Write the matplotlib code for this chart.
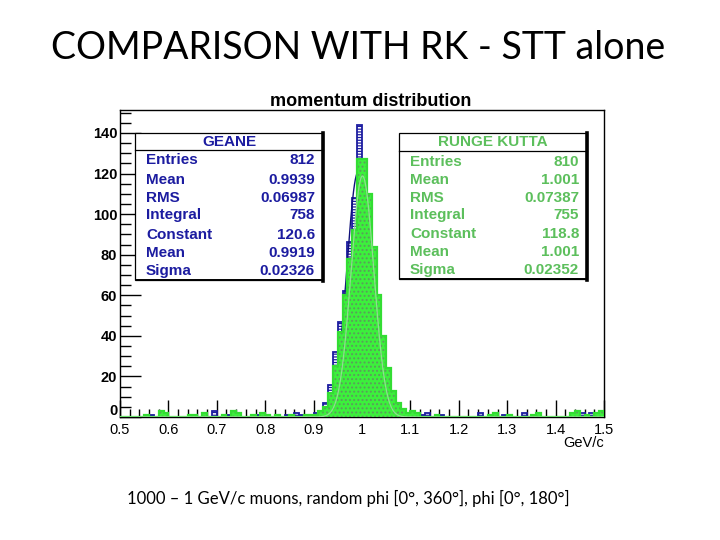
import matplotlib
matplotlib.use("Agg")
import matplotlib.pyplot as plt
from matplotlib.patches import Rectangle
from matplotlib.lines import Line2D
from matplotlib.ticker import MultipleLocator, FuncFormatter
import numpy as np

# histogram binning: 100 bins of 0.01 between 0.5 and 1.5 GeV/c
bin_lo = 0.5
bin_width = 0.01
n_bins = 100

geane_counts = [
    0, 0, 0, 0, 0, 0, 1, 0, 0, 0,
    0, 0, 0, 0, 1, 0, 0, 0, 0, 3,
    0, 0, 1, 0, 2, 0, 0, 0, 1, 0,
    0, 0, 0, 0, 1, 0, 2, 1, 0, 1,
    2, 3, 7, 16, 32, 47, 62, 86, 108, 144,
    100, 72, 45, 25, 12, 6, 3, 2, 1, 1,
    0, 0, 1, 2, 0, 0, 1, 0, 0, 0,
    0, 0, 0, 0, 2, 0, 0, 0, 0, 1,
    0, 0, 0, 2, 0, 0, 1, 0, 0, 0,
    0, 0, 0, 1, 0, 2, 0, 2, 0, 0,
]

rk_counts = [
    0, 0, 0, 0, 0, 1, 0, 0, 3, 2,
    0, 0, 0, 0, 1, 1, 0, 2, 0, 0,
    0, 1, 0, 3, 2, 0, 0, 1, 0, 2,
    1, 0, 1, 0, 0, 1, 0, 0, 1, 1,
    1, 3, 5, 12, 25, 42, 60, 78, 92, 127,
    127, 110, 84, 60, 40, 24, 13, 7, 4, 2,
    3, 2, 0, 0, 0, 1, 0, 0, 0, 0,
    0, 0, 0, 0, 0, 0, 1, 2, 0, 0,
    1, 0, 0, 0, 0, 1, 2, 0, 0, 0,
    0, 0, 0, 2, 3, 0, 1, 0, 2, 3,
]

# gaussian fit results (from the stat boxes)
geane_fit = (120.6, 0.9919, 0.02326)
rk_fit = (118.8, 1.001, 0.02352)

geane_labels = ["Entries", "Mean", "RMS", "Integral", "Constant", "Mean", "Sigma"]
geane_values = ["812", "0.9939", "0.06987", "758", "120.6", "0.9919", "0.02326"]
rk_labels = ["Entries", "Mean", "RMS", "Integral", "Constant", "Mean", "Sigma"]
rk_values = ["810", "1.001", "0.07387", "755", "118.8", "1.001", "0.02352"]

BLUE = "#1c1ca0"
GREEN = "#3cf03c"
GREEN_TXT = "#5cbf5c"
ROOTFONT = "Liberation Sans"

W, H = 720, 540
fig = plt.figure(figsize=(7.2, 5.4), dpi=100)
fig.patch.set_facecolor("white")


def fx(x):
    return x / W


def fy(y):
    return 1 - y / H


ax = fig.add_axes([fx(120), fy(417), (604 - 120) / W, (417 - 110) / H])
edges = bin_lo + bin_width * np.arange(n_bins + 1)

plt.rcParams["hatch.linewidth"] = 0.9

xx = np.linspace(0.5, 1.5, 1000)

# GEANE: white with horizontal blue hatching
ax.stairs(geane_counts, edges, fill=True, facecolor="white", edgecolor=BLUE,
          hatch="------", linewidth=0, zorder=1)
ax.stairs(geane_counts, edges, color=BLUE, linewidth=1.3, zorder=2)
c, m, s = geane_fit
ax.plot(xx, c * np.exp(-0.5 * ((xx - m) / s) ** 2), color="#10107a", lw=1.0, zorder=2.5)

# RUNGE KUTTA: bright green with dots
ax.stairs(rk_counts, edges, fill=True, facecolor=GREEN, edgecolor="#5c9c5c",
          hatch="....", linewidth=0, zorder=3)
ax.stairs(rk_counts, edges, color="#33dd33", linewidth=1.6, zorder=4)
c, m, s = rk_fit
ax.plot(xx, c * np.exp(-0.5 * ((xx - m) / s) ** 2), color="#8ee08e", lw=0.9, zorder=5)

ax.set_xlim(0.5, 1.5)
ax.set_ylim(0, 151.3)
ax.xaxis.set_major_locator(MultipleLocator(0.1))
ax.xaxis.set_minor_locator(MultipleLocator(0.02))
ax.yaxis.set_major_locator(MultipleLocator(20))
ax.yaxis.set_minor_locator(MultipleLocator(5))
ax.xaxis.set_major_formatter(FuncFormatter(lambda v, p: f"{v:g}"))
# the "0" of the y axis is placed by hand just above the "0.5"
ax.yaxis.set_major_formatter(FuncFormatter(lambda v, p: "" if v == 0 else f"{v:g}"))
ax.tick_params(axis="x", which="major", direction="in", length=12, width=1, pad=4,
               top=False, labelsize=10.5, labelfontfamily=ROOTFONT)
ax.tick_params(axis="x", which="minor", direction="in", length=6, width=1, top=False)
ax.tick_params(axis="y", which="major", direction="in", length=15, width=1, pad=2,
               right=False, labelsize=10.5, labelfontfamily=ROOTFONT)
ax.tick_params(axis="y", which="minor", direction="in", length=8, width=1, right=False)
for lab in ax.get_yticklabels():
    lab.set_fontweight("bold")
ax.annotate("0", xy=(0, 0), xycoords=("axes fraction", "data"), xytext=(-2, 4),
            textcoords="offset points", ha="right", va="center", fontsize=10.5,
            fontweight="bold", family=ROOTFONT, annotation_clip=False)
for sp in ax.spines.values():
    sp.set_linewidth(1.0)

fig.text(fx(604), fy(443), "GeV/c", ha="right", va="center", fontsize=10.5,
         family=ROOTFONT)
fig.text(fx(371), fy(102), "momentum distribution", ha="center", va="center",
         fontsize=13, fontweight="bold", family=ROOTFONT)


def stat_box(x0, x1, y0, y1, head_y, title, labels, values, color, lab_x, val_x, rows_y):
    fig.add_artist(Rectangle((fx(x0), fy(y1)), fx(x1) - fx(x0), fy(y0) - fy(y1),
                             transform=fig.transFigure, facecolor="white",
                             edgecolor="black", linewidth=0.9, zorder=10))
    fig.add_artist(Line2D([fx(x1), fx(x1)], [fy(y0), fy(y1 + 1)], transform=fig.transFigure,
                          color="black", linewidth=2.6, zorder=11))
    fig.add_artist(Line2D([fx(x0 + 2), fx(x1)], [fy(y1), fy(y1)], transform=fig.transFigure,
                          color="black", linewidth=1.4, zorder=11))
    fig.add_artist(Line2D([fx(x0), fx(x1)], [fy(head_y), fy(head_y)], transform=fig.transFigure,
                          color="black", linewidth=0.9, zorder=11))
    fig.text(fx((x0 + x1) / 2), fy((y0 + head_y) / 2 + 0.5), title, ha="center", va="center",
             fontsize=11, fontweight="bold", color=color, family=ROOTFONT, zorder=12)
    for lab, val, yy in zip(labels, values, rows_y):
        fig.text(fx(lab_x), fy(yy), lab, ha="left", va="center", fontsize=11,
                 fontweight="bold", color=color, family=ROOTFONT, zorder=12)
        fig.text(fx(val_x), fy(yy), val, ha="right", va="center", fontsize=11,
                 fontweight="bold", color=color, family=ROOTFONT, zorder=12)


stat_box(135, 323, 133, 280, 150, "GEANE", geane_labels, geane_values, BLUE,
         146, 315, [160, 180, 198, 215, 235, 253, 271])
stat_box(399, 587, 133, 279, 151, "RUNGE KUTTA", rk_labels, rk_values, GREEN_TXT,
         410, 579, [162, 180, 198, 215, 234, 252, 270])

# slide texts
fig.text(fx(358), fy(48), "COMPARISON WITH RK - STT alone", ha="center", va="center",
         fontsize=27, family="Lato")
fig.text(fx(348), fy(498), "1000 \u2013 1 GeV/c muons, random phi [0\u00b0, 360\u00b0], phi [0\u00b0, 180\u00b0]",
         ha="center", va="center", fontsize=12, family="Lato")

fig.savefig("out.png", dpi=100, facecolor="white")
